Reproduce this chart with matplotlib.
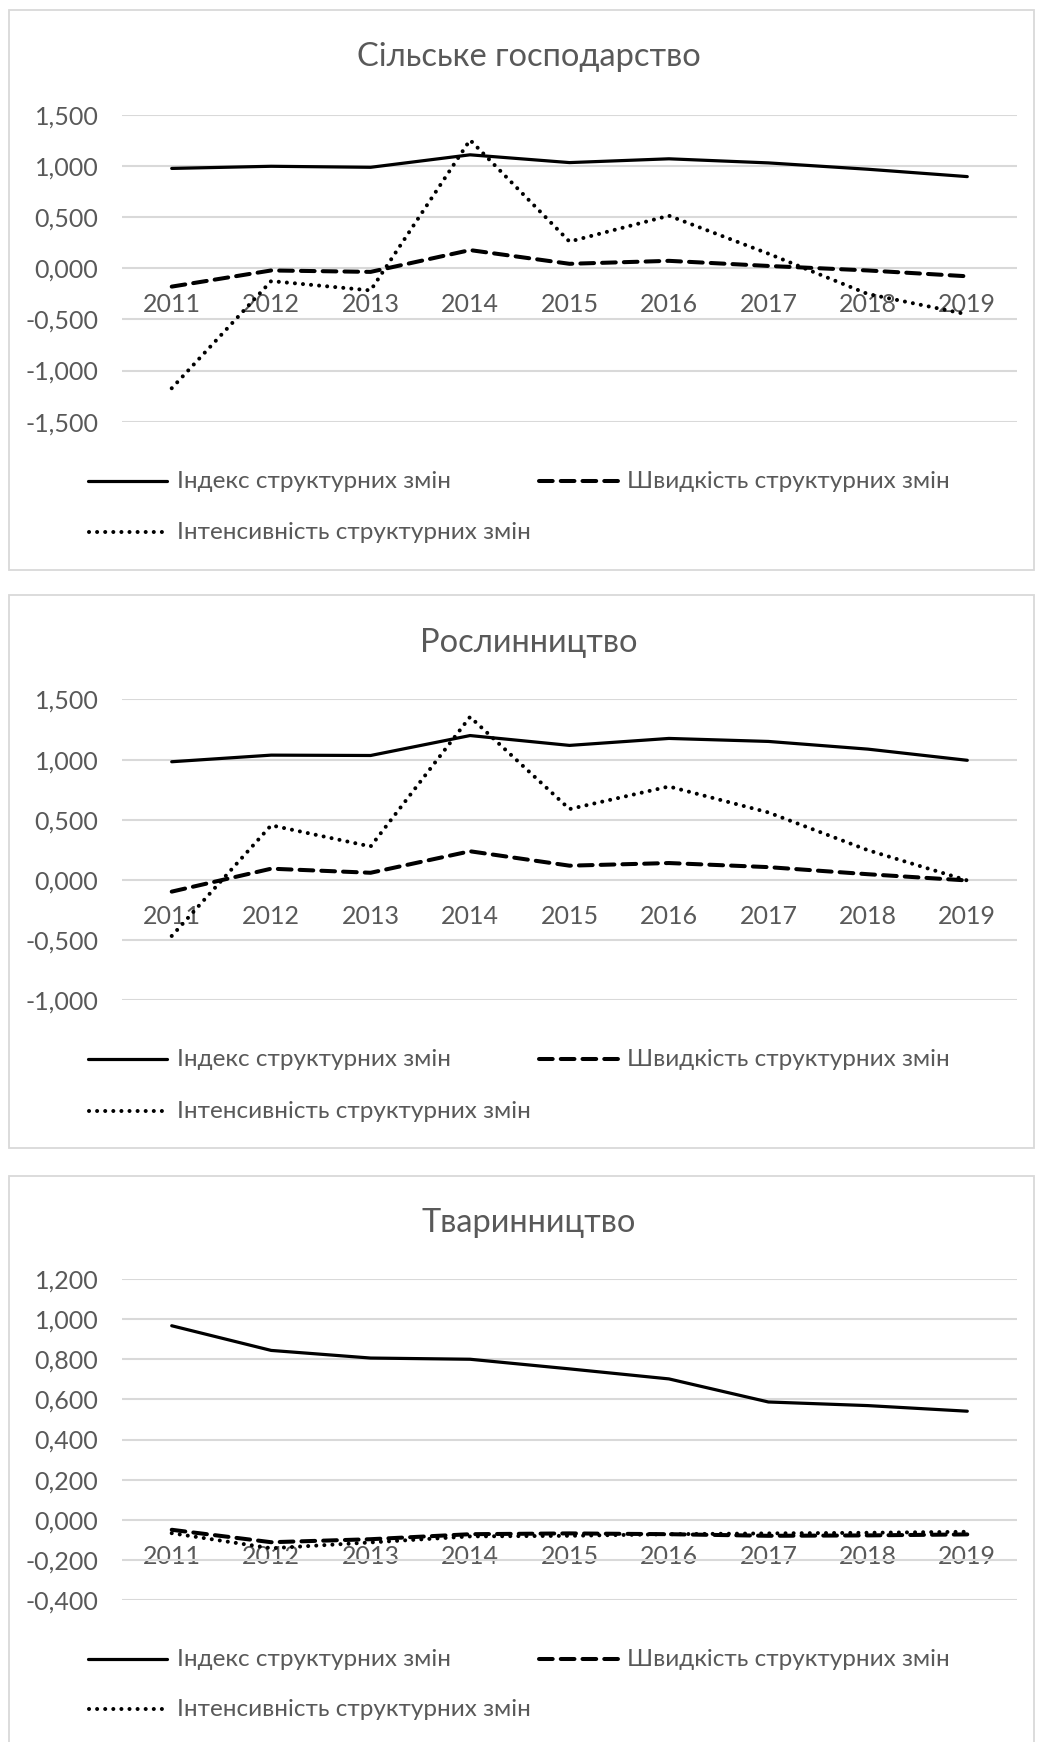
import matplotlib.pyplot as plt
import matplotlib.patches as patches
from matplotlib.lines import Line2D

years = ['2011', '2012', '2013', '2014', '2015', '2016', '2017', '2018', '2019']

agri_index = [0.975, 0.996, 0.986, 1.108, 1.032, 1.069, 1.029, 0.967, 0.895]
agri_speed = [-0.180, -0.022, -0.036, 0.177, 0.043, 0.072, 0.022, -0.022, -0.079]
agri_intens = [-1.173, -0.126, -0.217, 1.253, 0.260, 0.513, 0.142, -0.252, -0.451]

crop_index = [0.982, 1.037, 1.034, 1.200, 1.118, 1.176, 1.151, 1.087, 0.994]
crop_speed = [-0.099, 0.092, 0.058, 0.237, 0.117, 0.139, 0.105, 0.046, -0.006]
crop_intens = [-0.468, 0.453, 0.277, 1.355, 0.588, 0.776, 0.560, 0.246, -0.006]

live_index = [0.967, 0.844, 0.806, 0.800, 0.752, 0.702, 0.587, 0.569, 0.541]
live_speed = [-0.050, -0.112, -0.097, -0.072, -0.068, -0.072, -0.080, -0.078, -0.073]
live_intens = [-0.067, -0.142, -0.113, -0.083, -0.080, -0.072, -0.068, -0.065, -0.060]

titles = ['Сільське господарство', 'Рослинництво', 'Тваринництво']
legend_labels = ['Індекс структурних змін', 'Швидкість структурних змін',
                 'Інтенсивність структурних змін']
agri_ticks = [-1.5, -1.0, -0.5, 0.0, 0.5, 1.0, 1.5]
crop_ticks = [-1.0, -0.5, 0.0, 0.5, 1.0, 1.5]
live_ticks = [-0.4, -0.2, 0.0, 0.2, 0.4, 0.6, 0.8, 1.0, 1.2]

W, H = 1037, 1742
FONT = ['Lato', 'Noto Sans', 'DejaVu Sans']
TXT = '#595959'
GRID = '#d9d9d9'
plt.rcParams['font.family'] = FONT

fig = plt.figure(figsize=(W / 100, H / 100), dpi=100)


def fx(x):
    return x / W


def fy(y):
    return 1 - y / H


# panel layout in pixels: (box top, box bottom, plot top, plot bottom, title y, legend rows)
panels = [
    (10.5, 570, 114.7, 421.7, 57, (481, 532)),
    (595, 1148, 699.5, 999.9, 643, (1059, 1111)),
    (1176, 1780, 1279, 1600, 1223, (1659, 1709)),
]
series = [
    (agri_index, agri_speed, agri_intens, agri_ticks),
    (crop_index, crop_speed, crop_intens, crop_ticks),
    (live_index, live_speed, live_intens, live_ticks),
]

styles = [
    dict(color='black', lw=2.3, solid_capstyle='round'),
    dict(color='black', lw=2.9, linestyle=(0, (3.4, 2.0)), dash_capstyle='round'),
    dict(color='black', lw=2.9, linestyle=(0, (0.01, 2.0)), dash_capstyle='round'),
]


def fmt(v):
    return f'{v:.3f}'.replace('.', ',')


for (btop, bbot, ptop, pbot, ty, rows), (s1, s2, s3, ticks), title in zip(panels, series, titles):
    fig.patches.append(patches.Rectangle((fx(8.5), fy(bbot)), fx(1033.5 - 8.5), (bbot - btop) / H,
                                         transform=fig.transFigure, facecolor='white',
                                         edgecolor=GRID, lw=1.3, zorder=-5))
    ax = fig.add_axes([fx(122), fy(pbot), fx(1017 - 122), (pbot - ptop) / H])
    ax.set_facecolor('none')
    x = range(len(years))
    ax.plot(x, s1, **styles[0], zorder=3)
    ax.plot(x, s2, **styles[1], zorder=3)
    ax.plot(x, s3, **styles[2], zorder=3)

    ax.set_xlim(-0.5, len(years) - 0.5)
    ax.set_ylim(ticks[0], ticks[-1])
    ax.set_yticks(ticks)
    ax.set_yticklabels([fmt(t) for t in ticks])
    ax.set_xticks(list(x))
    ax.set_xticklabels(years)
    ax.grid(axis='y', color=GRID, lw=1.5)
    ax.set_axisbelow(True)
    for sp in ax.spines.values():
        sp.set_visible(False)
    ax.spines['bottom'].set_position(('data', 0))
    ax.tick_params(axis='both', length=0, labelsize=18, labelcolor=TXT)
    ax.tick_params(axis='y', pad=17)
    ax.tick_params(axis='x', pad=18)

    fig.text(fx(529), fy(ty), title, ha='center', va='center', fontsize=23.5, color=TXT)

    # legend drawn in figure pixels
    r1, r2 = rows
    entries = [(88, 167, 177, r1, 0), (539, 618, 627, r1, 1), (89, 164, 177, r2, 2)]
    for x0, x1, tx, ry, k in entries:
        fig.lines.append(Line2D([fx(x0), fx(x1)], [fy(ry), fy(ry)], transform=fig.transFigure,
                                **styles[k]))
        fig.text(fx(tx), fy(ry), legend_labels[k], ha='left', va='center', fontsize=17.5, color=TXT)

fig.savefig('out.png', dpi=100, facecolor='white')
